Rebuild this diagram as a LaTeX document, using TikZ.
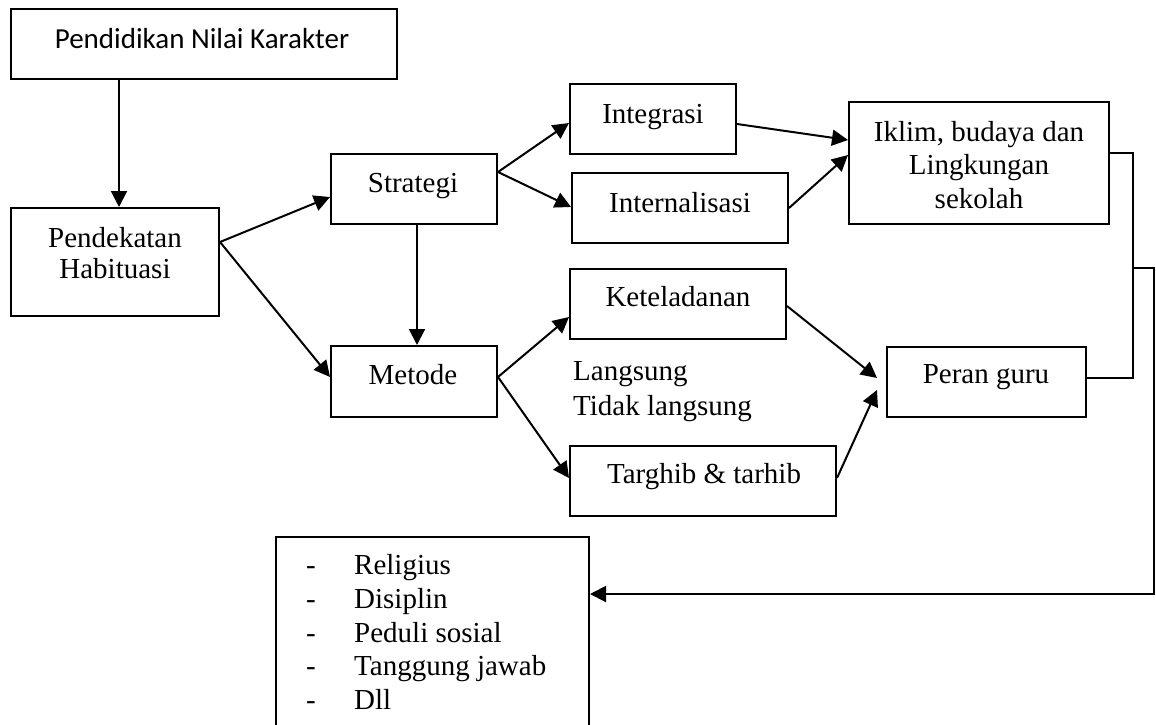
\documentclass[tikz,border=0pt]{standalone}
\usepackage{fontspec}
\setmainfont{Liberation Serif}
\newfontfamily\carl{Carlito}
\usetikzlibrary{arrows.meta,calc}
\begin{document}
\begin{tikzpicture}[x=1pt,y=-1pt,
  box/.style={draw, line width=2pt, inner sep=0pt, rectangle},
  txt/.style={inner sep=0pt, anchor=base, font=\fontsize{29}{33.5}\selectfont},
  ltxt/.style={inner sep=0pt, anchor=base west, font=\fontsize{29}{33.5}\selectfont},
  conn/.style={line width=2pt, -{Triangle[length=16pt,width=16pt]}},
  plain/.style={line width=2pt}]
\useasboundingbox (0,0) rectangle (1156,724);
\begin{scope}
\clip (0,0) rectangle (1156,724);
% boxes
\node[box, minimum width=386pt, minimum height=70pt] (top) at (204,44) {};
\node[box, minimum width=208pt, minimum height=108pt] (pend) at (115,262) {};
\node[box, minimum width=166pt, minimum height=70pt] (strat) at (414,189) {};
\node[box, minimum width=166pt, minimum height=70pt] (integ) at (653,119) {};
\node[box, minimum width=216pt, minimum height=70pt] (intern) at (680,208) {};
\node[box, minimum width=260pt, minimum height=122pt] (iklim) at (979,163) {};
\node[box, minimum width=166pt, minimum height=71pt] (metode) at (414,381.5) {};
\node[box, minimum width=216pt, minimum height=70pt] (ketel) at (678,304) {};
\node[box, minimum width=266pt, minimum height=70pt] (targ) at (703,481) {};
\node[box, minimum width=199pt, minimum height=70pt] (peran) at (986.5,382) {};
\node[box, minimum width=313pt, minimum height=208pt] (list) at (432.5,641) {};
\end{scope}
% texts
\node[txt, font=\carl\fontsize{29}{33.5}\selectfont] (topT) at (202,48) {Pendidikan Nilai Karakter};
\node[txt] (pendT1) at (115,247) {Pendekatan};
\node[txt] (pendT2) at (115,278) {Habituasi};
\node[txt] (stratT) at (413,192) {Strategi};
\node[txt] (integT) at (653,123) {Integrasi};
\node[txt] (internT) at (680,212) {Internalisasi};
\node[txt] (iklimT1) at (979,141) {Iklim, budaya dan};
\node[txt] (iklimT2) at (979,174) {Lingkungan};
\node[txt] (iklimT3) at (979,208) {sekolah};
\node[txt] (metodeT) at (413,384) {Metode};
\node[txt] (ketelT) at (678,306) {Keteladanan};
\node[txt] (targT) at (704,483) {Targhib \& tarhib};
\node[txt] (peranT) at (986,383) {Peran guru};
\node[ltxt] (lang1) at (573,380) {Langsung};
\node[ltxt] (lang2) at (573,415) {Tidak langsung};
\node[txt] (d1) at (311,574) {-};
\node[txt] (d2) at (311,608) {-};
\node[txt] (d3) at (311,642) {-};
\node[txt] (d4) at (311,675) {-};
\node[txt] (d5) at (311,709) {-};
\node[ltxt] (i1) at (354,574) {Religius};
\node[ltxt] (i2) at (354,608) {Disiplin};
\node[ltxt] (i3) at (354,642) {Peduli sosial};
\node[ltxt] (i4) at (354,675) {Tanggung jawab};
\node[ltxt] (i5) at (354,709) {Dll};
% connectors
\draw[conn] ($(top.south west)+(109,0)$) -- ($(pend.north west)+(109,0)$);
\draw[conn] ($(pend.north east)+(0,35)$) -- ($(strat.west)+(0,8)$);
\draw[conn] ($(pend.north east)+(0,35)$) -- ($(metode.west)+(0,-4.5)$);
\draw[conn] ($(strat.south west)+(87,0)$) -- ($(metode.north west)+(87,0)$);
\draw[conn] ($(strat.north east)+(0,19)$) -- ($(integ.west)+(0,4)$);
\draw[conn] ($(strat.north east)+(0,19)$) -- ($(intern.west)+(0,-1)$);
\draw[conn] ($(integ.east)+(0,5)$) -- ($(iklim.north west)+(0,39)$);
\draw[conn] (intern.east) -- ($(iklim.north west)+(0,54)$);
\draw[conn] ($(metode.east)+(0,-4.5)$) -- ($(ketel.north west)+(0,49)$);
\draw[conn] ($(metode.east)+(0,-4.5)$) -- ($(targ.west)+(0,-3)$);
\draw[conn] ($(ketel.north east)+(0,38)$) -- ($(peran.west)+(-9,-4)$);
\draw[conn] ($(targ.east)+(0,-3)$) -- ($(peran.west)+(-9,8)$);
\coordinate (jn) at (1133,268);
\draw[plain] ($(iklim.north east)+(0,52)$) -| (jn);
\draw[plain] ($(peran.east)+(0,-4)$) -| (jn);
\draw[conn] (jn) -- ++(21,0) |- ($(list.north east)+(0,58)$);
\end{tikzpicture}
\end{document}
